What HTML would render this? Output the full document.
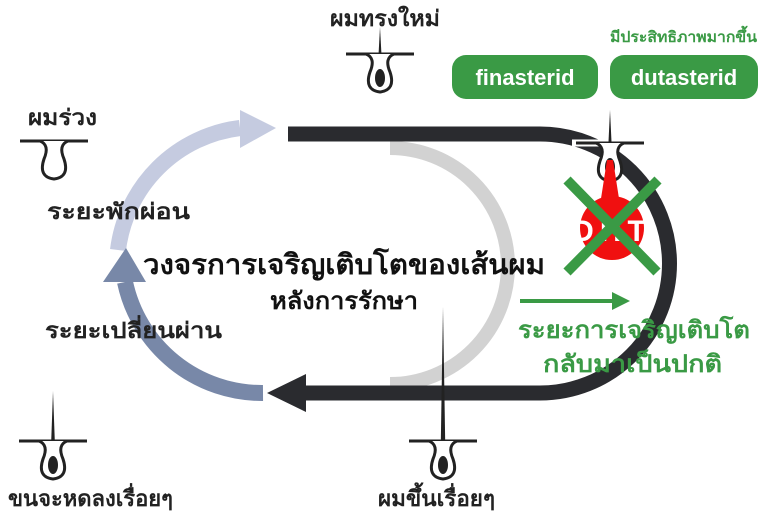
<!DOCTYPE html>
<html><head><meta charset="utf-8"><style>
html,body{margin:0;padding:0;background:#fff}
svg{display:block}
text{font-family:"Liberation Sans","Noto Sans CJK SC",sans-serif;font-weight:bold}
</style></head><body>
<svg width="760" height="520" viewBox="0 0 760 520" xmlns="http://www.w3.org/2000/svg">
<defs>
<g id="fol">
<line x1="-34" y1="0" x2="34" y2="0" stroke="#222" stroke-width="3"/>
<path d="M-14,0 Q-4,4 -10,18 Q-16,36 0,38 Q16,36 10,18 Q4,4 14,0" fill="#fff" stroke="#222" stroke-width="3"/>
<ellipse cx="0" cy="24" rx="5" ry="9" fill="#222"/>
</g>
</defs>
<path d="M390,148 A118,118 0 0 1 390,384" fill="none" stroke="#d2d2d2" stroke-width="14"/>
<path d="M118,250 A140,140 0 0 1 240,128" fill="none" stroke="#c5cbe0" stroke-width="16"/>
<polygon points="240,110 276,128 240,148" fill="#c5cbe0"/>
<path d="M263,393 A140,140 0 0 1 125,282" fill="none" stroke="#7888a8" stroke-width="16"/>
<polygon points="103,282 126,248 146,282" fill="#7888a8"/>
<path d="M288,134 L540,134 A129.5,129.5 0 0 1 540,393 L303,393" fill="none" stroke="#2a2b2f" stroke-width="15"/>
<polygon points="267,393 306,374 306,412" fill="#2a2b2f"/>
<g transform="translate(380,54)"><polygon points="-2.5,20 0,-27 2.5,20" fill="#222"/><use href="#fol"/></g>
<g transform="translate(53,441)"><polygon points="-2.5,20 0,-50 2.5,20" fill="#222"/><use href="#fol"/></g>
<g transform="translate(443,441)"><polygon points="-2.5,20 0,-134 2.5,20" fill="#222"/><use href="#fol"/></g>
<g transform="translate(54,141)">
<line x1="-34" y1="0" x2="34" y2="0" stroke="#222" stroke-width="3"/>
<path d="M-14,0 Q-4,4 -10,18 Q-16,36 0,38 Q16,36 10,18 Q4,4 14,0" fill="#fff" stroke="#222" stroke-width="3"/>
</g>
<g transform="translate(610,143)">
<line x1="-38" y1="0" x2="37" y2="0" stroke="#fff" stroke-width="7"/>
<polygon points="-2.5,20 0,-33 2.5,20" fill="#222"/><use href="#fol"/>
</g>
<path d="M607,160 L613,160 L620,205 L600,205 Z" fill="#f01010"/>
<circle cx="612" cy="228" r="32" fill="#f01010"/>
<text x="612" y="241" font-size="30" fill="#fff" text-anchor="middle" letter-spacing="6">DHT</text>
<line x1="567" y1="180" x2="657" y2="272" stroke="#3a9a45" stroke-width="10"/>
<line x1="658" y1="180" x2="567" y2="272" stroke="#3a9a45" stroke-width="10"/>
<line x1="520" y1="301" x2="615" y2="301" stroke="#3a9a45" stroke-width="4"/>
<polygon points="612,292 630,301 612,310" fill="#3a9a45"/>
<rect x="452" y="55" width="146" height="44" rx="14" fill="#3a9a45"/>
<rect x="610" y="55" width="148" height="44" rx="14" fill="#3a9a45"/>
<text x="525" y="85" font-size="22" fill="#fff" text-anchor="middle">finasterid</text>
<text x="684" y="85" font-size="22" fill="#fff" text-anchor="middle">dutasterid</text>
<text x="610" y="42" font-size="15" fill="#3a9a45" textLength="147" lengthAdjust="spacingAndGlyphs">มีประสิทธิภาพมากขึ้น</text>
<text x="330" y="26" font-size="22" fill="#222" textLength="110" lengthAdjust="spacingAndGlyphs">ผมทรงใหม่</text>
<text x="28" y="125" font-size="22" fill="#222" textLength="69" lengthAdjust="spacingAndGlyphs">ผมร่วง</text>
<text x="47" y="219" font-size="22" fill="#222" textLength="143" lengthAdjust="spacingAndGlyphs">ระยะพักผ่อน</text>
<text x="45" y="338" font-size="22" fill="#222" textLength="177" lengthAdjust="spacingAndGlyphs">ระยะเปลี่ยนผ่าน</text>
<text x="8" y="506" font-size="22" fill="#222" textLength="165" lengthAdjust="spacingAndGlyphs">ขนจะหดลงเรื่อยๆ</text>
<text x="378" y="506" font-size="22" fill="#222" textLength="117" lengthAdjust="spacingAndGlyphs">ผมขึ้นเรื่อยๆ</text>
<text x="143" y="274" font-size="28" fill="#111" textLength="402" lengthAdjust="spacingAndGlyphs">วงจรการเจริญเติบโตของเส้นผม</text>
<text x="270" y="309" font-size="24" fill="#111" textLength="148" lengthAdjust="spacingAndGlyphs">หลังการรักษา</text>
<text x="518" y="338" font-size="24" fill="#3a9a45" textLength="232" lengthAdjust="spacingAndGlyphs">ระยะการเจริญเติบโต</text>
<text x="543" y="372" font-size="24" fill="#3a9a45" textLength="179" lengthAdjust="spacingAndGlyphs">กลับมาเป็นปกติ</text>
</svg>
</body></html>
